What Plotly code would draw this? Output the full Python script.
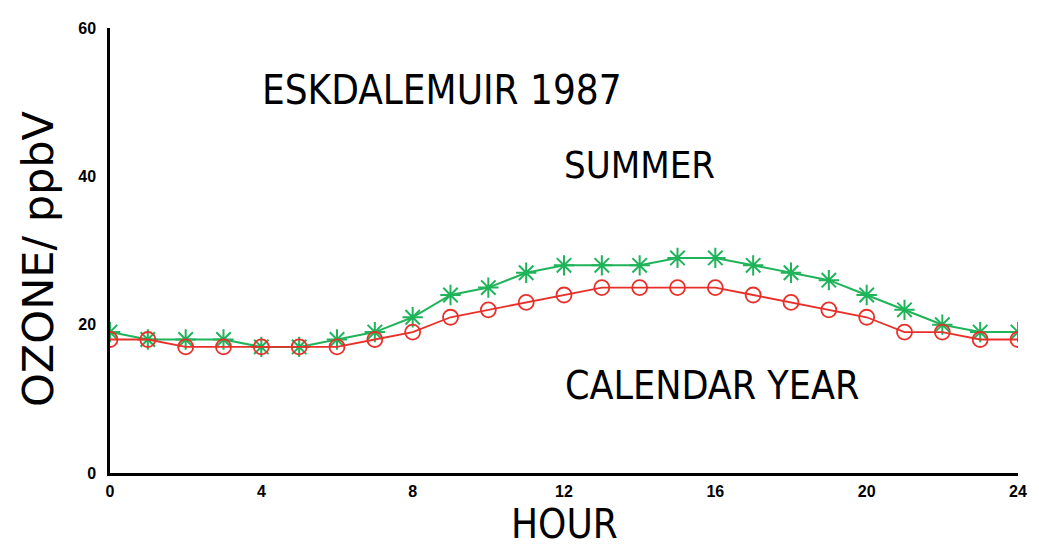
import plotly.graph_objects as go

hours = list(range(0, 25))
summer = [19, 18, 18, 18, 17, 17, 18, 19, 21, 24, 25, 27, 28, 28, 28, 29, 29, 28, 27, 26, 24, 22, 20, 19, 19]
calendar_year = [18, 18, 17, 17, 17, 17, 17, 18, 19, 21, 22, 23, 24, 25, 25, 25, 25, 24, 23, 22, 21, 19, 19, 18, 18]
x_ticks = [0, 4, 8, 12, 16, 20, 24]
y_ticks = [0, 20, 40, 60]

FONT = "DejaVu Sans Condensed, DejaVu Sans, sans-serif"
TICKFONT = "Liberation Sans, Arial, sans-serif"
GREEN = "#1fb35a"
RED = "#e8302a"

fig = go.Figure()
fig.add_trace(go.Scatter(
    x=hours, y=summer, mode="lines+markers", name="SUMMER",
    line=dict(color=GREEN, width=2),
    marker=dict(symbol="asterisk-open", size=17, color=GREEN, line=dict(color=GREEN, width=2)),
))
fig.add_trace(go.Scatter(
    x=hours, y=calendar_year, mode="lines+markers", name="CALENDAR YEAR",
    line=dict(color=RED, width=1.8),
    marker=dict(symbol="circle-open", size=15, color=RED, line=dict(color=RED, width=1.8)),
))

# page body has an 8px margin, so the figure is sized/offset to compensate
fig.update_layout(
    width=1031, height=543,
    margin=dict(l=102, r=19, t=12, b=78),
    paper_bgcolor="white", plot_bgcolor="white",
    showlegend=False,
    font=dict(family=FONT, color="black"),
    xaxis=dict(range=[0, 24], tickvals=x_ticks, ticktext=[str(v) for v in x_ticks],
               showgrid=False, zeroline=False, showline=True, linecolor="black", linewidth=2.5,
               ticks="", tickfont=dict(size=16, family=TICKFONT, weight="bold"), ticklabelstandoff=2),
    yaxis=dict(range=[0, 60], tickvals=y_ticks, ticktext=[str(v) for v in y_ticks],
               showgrid=False, zeroline=False, showline=True, linecolor="black", linewidth=2.5,
               ticks="", tickfont=dict(size=16, family=TICKFONT, weight="bold"), ticklabelstandoff=8),
)

annotations = [
    dict(text="ESKDALEMUIR 1987", x=260, y=83, size=40),
    dict(text="SUMMER", x=563, y=159, size=38),
    dict(text="CALENDAR YEAR", x=564, y=384, size=39),
]
for a in annotations:
    fig.add_annotation(
        text=a["text"], xref="paper", yref="paper",
        x=(a["x"] - 110) / 910, y=(473 - a["y"]) / 453,
        xanchor="left", yanchor="middle", showarrow=False,
        font=dict(family=FONT, size=a["size"], color="black"),
    )

fig.add_annotation(
    text="HOUR", xref="paper", yref="paper",
    x=(565 - 110) / 910, y=(473 - 525) / 453,
    xanchor="center", yanchor="middle", showarrow=False,
    font=dict(family=FONT, size=40, color="black"),
)
fig.add_annotation(
    text="OZONE/ ppbV", xref="paper", yref="paper",
    x=(38 - 110) / 910, y=(473 - 255) / 453,
    xanchor="center", yanchor="middle", showarrow=False, textangle=-90,
    font=dict(family="DejaVu Sans, sans-serif", size=43, color="black"),
)

fig.write_html("out.html")
